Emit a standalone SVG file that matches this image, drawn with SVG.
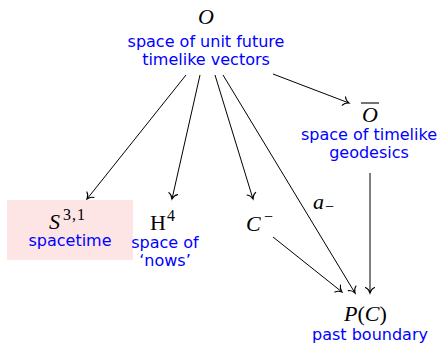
<svg xmlns="http://www.w3.org/2000/svg" width="440" height="344" viewBox="0 0 440 344">
<style>
.m{font-family:"Liberation Serif","Times New Roman",serif;font-size:22px;fill:#000}
.i{font-style:italic}
.sup{font-family:"Liberation Serif","Times New Roman",serif;font-size:16px;fill:#000}
.b{font-family:"DejaVu Sans",sans-serif;font-size:16px;fill:#0000ff;text-anchor:middle}
.e{stroke:#000;stroke-width:1;fill:none;marker-end:url(#arr)}
</style>
<defs>
<marker id="arr" viewBox="-7 -6 9 12" markerWidth="9" markerHeight="12" refX="0" refY="0" orient="auto" markerUnits="userSpaceOnUse">
<path d="M-5.5,-4.5 C-4.5,-2.2 -2,-0.6 0,0 C-2,0.6 -4.5,2.2 -5.5,4.5" fill="none" stroke="#000" stroke-width="1.1" stroke-linecap="round"/>
</marker>
</defs>
<g id="connectors">
<line class="e" x1="186" y1="75" x2="87" y2="199"/>
<line class="e" x1="200" y1="75" x2="172" y2="199"/>
<line class="e" x1="215" y1="75" x2="253" y2="199"/>
<line class="e" x1="223" y1="75" x2="355" y2="293"/>
<line class="e" x1="273" y1="74" x2="349" y2="103"/>
<line class="e" x1="370" y1="173" x2="370" y2="293"/>
<line class="e" x1="273" y1="237" x2="342" y2="292"/>
<text class="m i" x="313" y="209">a</text>
<text class="sup" x="325" y="212" font-size="19">−</text>
</g>
<g id="O">
<text class="m i" x="206" y="24" text-anchor="middle">O</text>
<text class="b" x="206" y="47">space of unit future</text>
<text class="b" x="206" y="65">timelike vectors</text>
</g>
<g id="Obar">
<line x1="361" y1="103" x2="379" y2="103" stroke="#000" stroke-width="1.1"/>
<text class="m i" x="370" y="122" text-anchor="middle">O</text>
<text class="b" x="369" y="140">space of timelike</text>
<text class="b" x="369" y="158">geodesics</text>
</g>
<g id="S31">
<rect x="7" y="200" width="126" height="60" fill="#fde5e5"/>
<text class="m i" x="49" y="229">S</text>
<text class="sup" x="63" y="220" letter-spacing="1">3,1</text>
<text class="b" x="70" y="246">spacetime</text>
</g>
<g id="H4">
<text class="m" x="150" y="230">H</text>
<text class="sup" x="167" y="221">4</text>
<text class="b" x="165" y="248">space of</text>
<text class="b" x="165" y="266">‘nows’</text>
</g>
<g id="Cminus">
<text class="m i" x="246" y="231">C</text>
<text class="sup" x="264" y="222">−</text>
</g>
<g id="PC">
<text class="m" x="344" y="321"><tspan class="i">P</tspan>(<tspan class="i">C</tspan>)</text>
<text class="b" x="370" y="340">past boundary</text>
</g>
</svg>
